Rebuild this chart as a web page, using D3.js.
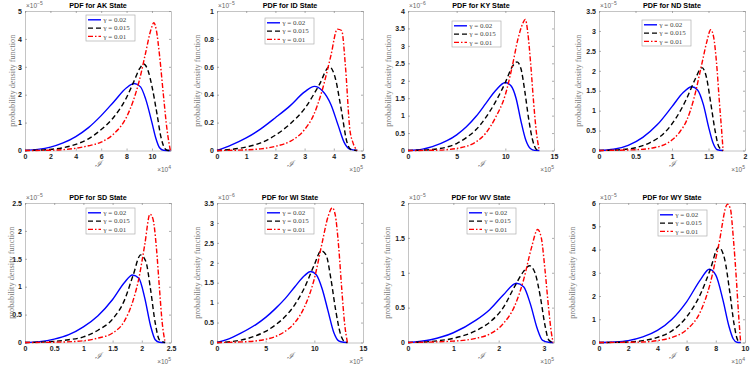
<!DOCTYPE html>
<html><head><meta charset="utf-8">
<script src="https://cdn.jsdelivr.net/npm/d3@7"></script>
<style>body{margin:0;background:#fff}svg{display:block}</style>
</head><body><svg id="c" width="750" height="365"></svg>
<script>
// ---------- data ----------
const states = ["AK","ID","KY","ND","SD","WI","WV","WY"];
const seriesNames = ["γ = 0.02","γ = 0.015","γ = 0.01"];
const xTicks = [[0,2,4,6,8,10],[0,1,2,3,4,5],[0,5,10,15],[0,0.5,1,1.5,2],[0,0.5,1,1.5,2,2.5],[0,5,10,15],[0,1,2,3],[0,2,4,6,8,10]];
const yTicks = [[0,1,2,3,4,5],[0,0.2,0.4,0.6,0.8,1],[0,0.5,1,1.5,2,2.5,3,3.5,4],[0,0.5,1,1.5,2,2.5,3,3.5],[0,0.5,1,1.5,2,2.5],[0,0.5,1,1.5,2,2.5,3,3.5],[0,0.5,1,1.5,2],[0,1,2,3,4,5,6]];
const xExp = [4,5,5,5,5,5,5,4];
const yExp = [-5,-5,-6,-5,-5,-6,-5,-5];
const xMax = [11.5,5,15,2,2.5,15,3.22,10];

const akBlue = [[0,0],[1,0.04],[2,0.12],[3,0.27],[4,0.5],[5,0.82],[6,1.25],[7,1.75],[8,2.25],[8.6,2.4],[9.1,2.28],[9.5,1.85],[10,1.0],[10.3,0.45],[10.6,0.1],[10.9,0.01],[11.45,0]];
const akBlack = [[0,0],[2,0.04],[3,0.1],[4,0.22],[5,0.42],[6,0.75],[7,1.2],[8,1.9],[8.6,2.5],[9.05,2.95],[9.35,3.1],[9.7,2.85],[10,2.3],[10.4,1.3],[10.7,0.5],[11,0.08],[11.2,0.01],[11.45,0]];
const akRed = [[0,0],[2,0.01],[3,0.03],[4,0.08],[5,0.17],[6,0.3],[7,0.6],[8,1.2],[8.5,1.75],[9,2.5],[9.5,3.5],[9.9,4.3],[10.15,4.58],[10.35,4.3],[10.6,3.4],[10.9,2.0],[11.2,0.7],[11.45,0]];

const idBlue = [[0,0],[0.5,0.04],[1,0.09],[1.5,0.155],[2,0.235],[2.5,0.32],[3,0.42],[3.34,0.46],[3.6,0.43],[3.9,0.33],[4.15,0.18],[4.35,0.06],[4.55,0.01],[4.8,0]];
const idBlack = [[0,0],[0.5,0.008],[1,0.025],[1.5,0.055],[2,0.11],[2.5,0.19],[3,0.3],[3.5,0.47],[3.85,0.6],[4.05,0.52],[4.25,0.3],[4.45,0.06],[4.6,0.005],[4.8,0]];
const idRed = [[0,0],[1,0.005],[1.5,0.012],[2,0.03],[2.5,0.065],[3,0.15],[3.3,0.25],[3.6,0.43],[3.9,0.68],[4.12,0.87],[4.27,0.86],[4.4,0.6],[4.55,0.15],[4.65,0.06],[4.8,0]];

const kyBlue = [[0,0],[1.5,0.04],[2.5,0.11],[4,0.28],[5,0.45],[6,0.68],[7,0.98],[8,1.35],[9,1.72],[10,1.95],[10.6,1.85],[11.1,1.5],[11.6,0.85],[12.1,0.3],[12.6,0.05],[13,0.005],[13.5,0]];
const kyBlack = [[0,0],[2.5,0.03],[4,0.1],[5,0.2],[6,0.37],[7,0.6],[8,0.95],[9,1.4],[10,1.95],[10.7,2.4],[11.2,2.54],[11.6,2.35],[12,1.7],[12.4,0.9],[12.8,0.3],[13.2,0.03],[13.5,0]];
const kyRed = [[0,0],[3,0.01],[5,0.06],[6,0.12],[7,0.25],[8,0.5],[9,0.95],[10,1.6],[10.7,2.4],[11.3,3.2],[11.8,3.65],[12.05,3.76],[12.3,3.4],[12.6,2.5],[12.9,1.4],[13.2,0.5],[13.5,0]];

const ndBlue = [[0,0],[0.2,0.03],[0.4,0.13],[0.6,0.33],[0.8,0.65],[1,1.1],[1.15,1.45],[1.27,1.6],[1.35,1.52],[1.43,1.15],[1.5,0.6],[1.56,0.2],[1.62,0.02],[1.7,0]];
const ndBlack = [[0,0],[0.3,0.02],[0.5,0.07],[0.7,0.2],[0.9,0.45],[1.05,0.8],[1.2,1.3],[1.32,1.8],[1.41,2.08],[1.47,1.85],[1.53,1.2],[1.59,0.5],[1.64,0.1],[1.7,0]];
const ndRed = [[0,0],[0.5,0.02],[0.75,0.07],[0.95,0.2],[1.1,0.45],[1.2,0.75],[1.3,1.3],[1.4,2.1],[1.48,2.75],[1.53,3.03],[1.57,2.85],[1.61,2.2],[1.65,1.2],[1.68,0.5],[1.7,0]];

const sdBlue = [[0,0],[0.25,0.015],[0.5,0.06],[0.75,0.14],[1,0.28],[1.25,0.48],[1.5,0.77],[1.7,1.07],[1.84,1.21],[1.95,1.15],[2.05,0.8],[2.15,0.3],[2.23,0.05],[2.3,0.005],[2.4,0]];
const sdBlack = [[0,0],[0.5,0.02],[0.75,0.05],[1,0.1],[1.25,0.22],[1.5,0.42],[1.7,0.75],[1.85,1.2],[1.98,1.57],[2.07,1.45],[2.15,0.95],[2.23,0.35],[2.3,0.05],[2.4,0]];
const sdRed = [[0,0],[0.5,0.005],[1,0.03],[1.25,0.08],[1.5,0.17],[1.7,0.38],[1.85,0.75],[1.95,1.15],[2.05,1.75],[2.14,2.3],[2.19,2.22],[2.25,1.7],[2.3,1.0],[2.35,0.35],[2.4,0]];

const wiBlue = [[0,0],[1,0.07],[2.5,0.24],[4,0.45],[5,0.63],[6,0.85],[7,1.1],[8,1.4],[9,1.68],[9.6,1.78],[10.2,1.7],[10.8,1.35],[11.4,0.8],[12,0.25],[12.5,0.04],[13,0.005],[13.4,0]];
const wiBlack = [[0,0],[2,0.04],[3,0.09],[4,0.17],[5,0.28],[6,0.44],[7,0.65],[8,0.95],[9,1.38],[10,1.95],[10.7,2.3],[11.2,2.2],[11.7,1.6],[12.2,0.8],[12.7,0.2],[13.1,0.02],[13.4,0]];
const wiRed = [[0,0],[3,0.02],[5,0.08],[6,0.15],[7,0.28],[8,0.5],[9,0.9],[10,1.6],[10.8,2.5],[11.4,3.15],[11.85,3.38],[12.15,3.2],[12.5,2.4],[12.8,1.4],[13.1,0.5],[13.4,0]];

const wvBlue = [[0,0],[0.5,0.04],[1,0.14],[1.5,0.32],[1.8,0.47],[2.1,0.68],[2.39,0.85],[2.55,0.8],[2.7,0.55],[2.85,0.2],[2.97,0.03],[3.1,0.003],[3.2,0]];
const wvBlack = [[0,0],[0.5,0.015],[1,0.06],[1.5,0.17],[1.8,0.29],[2.1,0.5],[2.35,0.8],[2.55,1.02],[2.68,1.1],[2.8,1.0],[2.92,0.65],[3.02,0.25],[3.1,0.04],[3.2,0]];
const wvRed = [[0,0],[1,0.02],[1.5,0.06],[1.8,0.12],[2.1,0.27],[2.35,0.52],[2.55,0.9],[2.72,1.35],[2.86,1.62],[2.94,1.5],[3.02,1.05],[3.1,0.5],[3.16,0.15],[3.2,0]];

const wyBlue = [[0,0],[1,0.02],[2,0.08],[3,0.24],[4,0.52],[5,1.0],[6,1.75],[7,2.75],[7.55,3.15],[8,2.9],[8.5,1.8],[8.9,0.7],[9.2,0.15],[9.45,0.01],[9.7,0]];
const wyBlack = [[0,0],[2,0.02],[3,0.08],[4,0.22],[5,0.5],[6,1.1],[7,2.15],[7.6,3.1],[8.2,4.1],[8.6,3.6],[8.95,2.2],[9.25,0.8],[9.5,0.1],[9.7,0]];
const wyRed = [[0,0],[3,0.02],[4,0.08],[5,0.22],[6,0.55],[7,1.4],[7.6,2.5],[8.2,4.2],[8.8,5.95],[9.0,5.75],[9.2,4.5],[9.4,2.8],[9.55,1.3],[9.7,0]];

const panelSeries = [
  [akBlue,akBlack,akRed],[idBlue,idBlack,idRed],[kyBlue,kyBlack,kyRed],[ndBlue,ndBlack,ndRed],
  [sdBlue,sdBlack,sdRed],[wiBlue,wiBlack,wiRed],[wvBlue,wvBlack,wvRed],[wyBlue,wyBlack,wyRed]
];

// ---------- layout / style ----------
const lefts = [25,217,408,599];
const tops = [11,203];
const W = 146, H = 139.5;
const legendPos = [[61,4],[48,7],[44,10],[43,9],[61,5],[48,5],[59,5],[59,7]];
const ylabOff = [13,20,20,21,14,20,21,27];
const colors = ["#0000ff","#000000","#ff0000"];
const dashes = [null,"5,3","5,2,1.5,2"];
const sans = "'Liberation Sans', Arial, Helvetica, sans-serif";
const serif = "'Liberation Serif', 'Times New Roman', serif";
const frameCol = "#b5b5b5";

const svg = d3.select("#c");
svg.append("rect").attr("width",750).attr("height",365).attr("fill","#fff");

states.forEach((st,i)=>{
  const row = Math.floor(i/4), col = i%4;
  const L = lefts[col], T = tops[row];
  const g = svg.append("g").attr("transform",`translate(${L},${T})`);
  const yMax = yTicks[i][yTicks[i].length-1];
  const x = d3.scaleLinear().domain([0,xMax[i]]).range([0,W]);
  const y = d3.scaleLinear().domain([0,yMax]).range([H,0]);
  const fmt = v => String(+v.toFixed(2));

  // axes
  const ax = [
    g.append("g").attr("transform",`translate(0,${H})`).call(d3.axisBottom(x).tickValues(xTicks[i]).tickSize(-2).tickSizeOuter(0).tickPadding(4).tickFormat(fmt)),
    g.append("g").call(d3.axisLeft(y).tickValues(yTicks[i]).tickSize(-2).tickSizeOuter(0).tickPadding(3).tickFormat(fmt)),
    g.append("g").call(d3.axisTop(x).tickValues(xTicks[i]).tickSize(-2).tickSizeOuter(0).tickFormat("")),
    g.append("g").attr("transform",`translate(${W},0)`).call(d3.axisRight(y).tickValues(yTicks[i]).tickSize(-2).tickSizeOuter(0).tickFormat(""))
  ];
  ax.forEach(a=>{
    a.select(".domain").attr("stroke",frameCol).attr("stroke-width",0.8);
    a.selectAll(".tick line").attr("stroke","#8a8a8a").attr("stroke-width",0.7);
    a.selectAll(".tick text").attr("font-family",sans).attr("font-weight","bold").attr("font-size",7).attr("fill","#1a1a1a");
  });

  // curves
  const line = d3.line().x(d=>x(d[0])).y(d=>y(d[1])).curve(d3.curveMonotoneX);
  panelSeries[i].forEach((s,k)=>{
    g.append("path").datum(s).attr("d",line).attr("fill","none")
      .attr("stroke",colors[k]).attr("stroke-width",1.4)
      .attr("stroke-dasharray",dashes[k]);
  });

  // title
  g.append("text").attr("x",W/2).attr("y",-3.5).attr("text-anchor","middle")
    .attr("font-family",sans).attr("font-weight","bold").attr("font-size",7.2).attr("fill","#000")
    .text(`PDF for ${st} State`);

  // y exponent
  const ye = g.append("text").attr("x",1).attr("y",-3).attr("font-family",sans).attr("font-size",6.5).attr("fill","#666");
  ye.append("tspan").text("×10");
  ye.append("tspan").attr("dy",-3).attr("font-size",5).text(String(yExp[i]).replace("-","−"));

  // x exponent
  const xe = g.append("text").attr("x",W).attr("y",H+21).attr("text-anchor","end").attr("font-family",sans).attr("font-size",6.5).attr("fill","#666");
  xe.append("tspan").text("×10");
  xe.append("tspan").attr("dy",-3).attr("font-size",5).text(String(xExp[i]));

  // axis labels
  g.append("text").attr("x",W/2).attr("y",H+16.5).attr("text-anchor","middle")
    .attr("font-family",serif).attr("font-style","italic").attr("font-size",9).attr("fill","#777").text("ℐ");
  g.append("text").attr("transform",`translate(${-ylabOff[i]},${H/2}) rotate(-90)`)
    .attr("text-anchor","middle").attr("dy","0.32em")
    .attr("font-family",serif).attr("font-size",8.3).attr("fill","#777").text("probability density function");

  // legend
  const [lx,ly] = legendPos[i];
  const lg = g.append("g").attr("transform",`translate(${lx},${ly})`);
  lg.append("rect").attr("width",49).attr("height",26).attr("fill","#fff").attr("stroke","#b0b0b0").attr("stroke-width",0.7);
  seriesNames.forEach((nm,k)=>{
    const yy = 4.8 + k*8.3;
    lg.append("line").attr("x1",2).attr("x2",15).attr("y1",yy).attr("y2",yy)
      .attr("stroke",colors[k]).attr("stroke-width",1.4).attr("stroke-dasharray",dashes[k]);
    lg.append("text").attr("x",17.5).attr("y",yy).attr("dy","0.33em")
      .attr("font-family",serif).attr("font-size",7).attr("fill","#444").text(nm);
  });
});
</script></body></html>
